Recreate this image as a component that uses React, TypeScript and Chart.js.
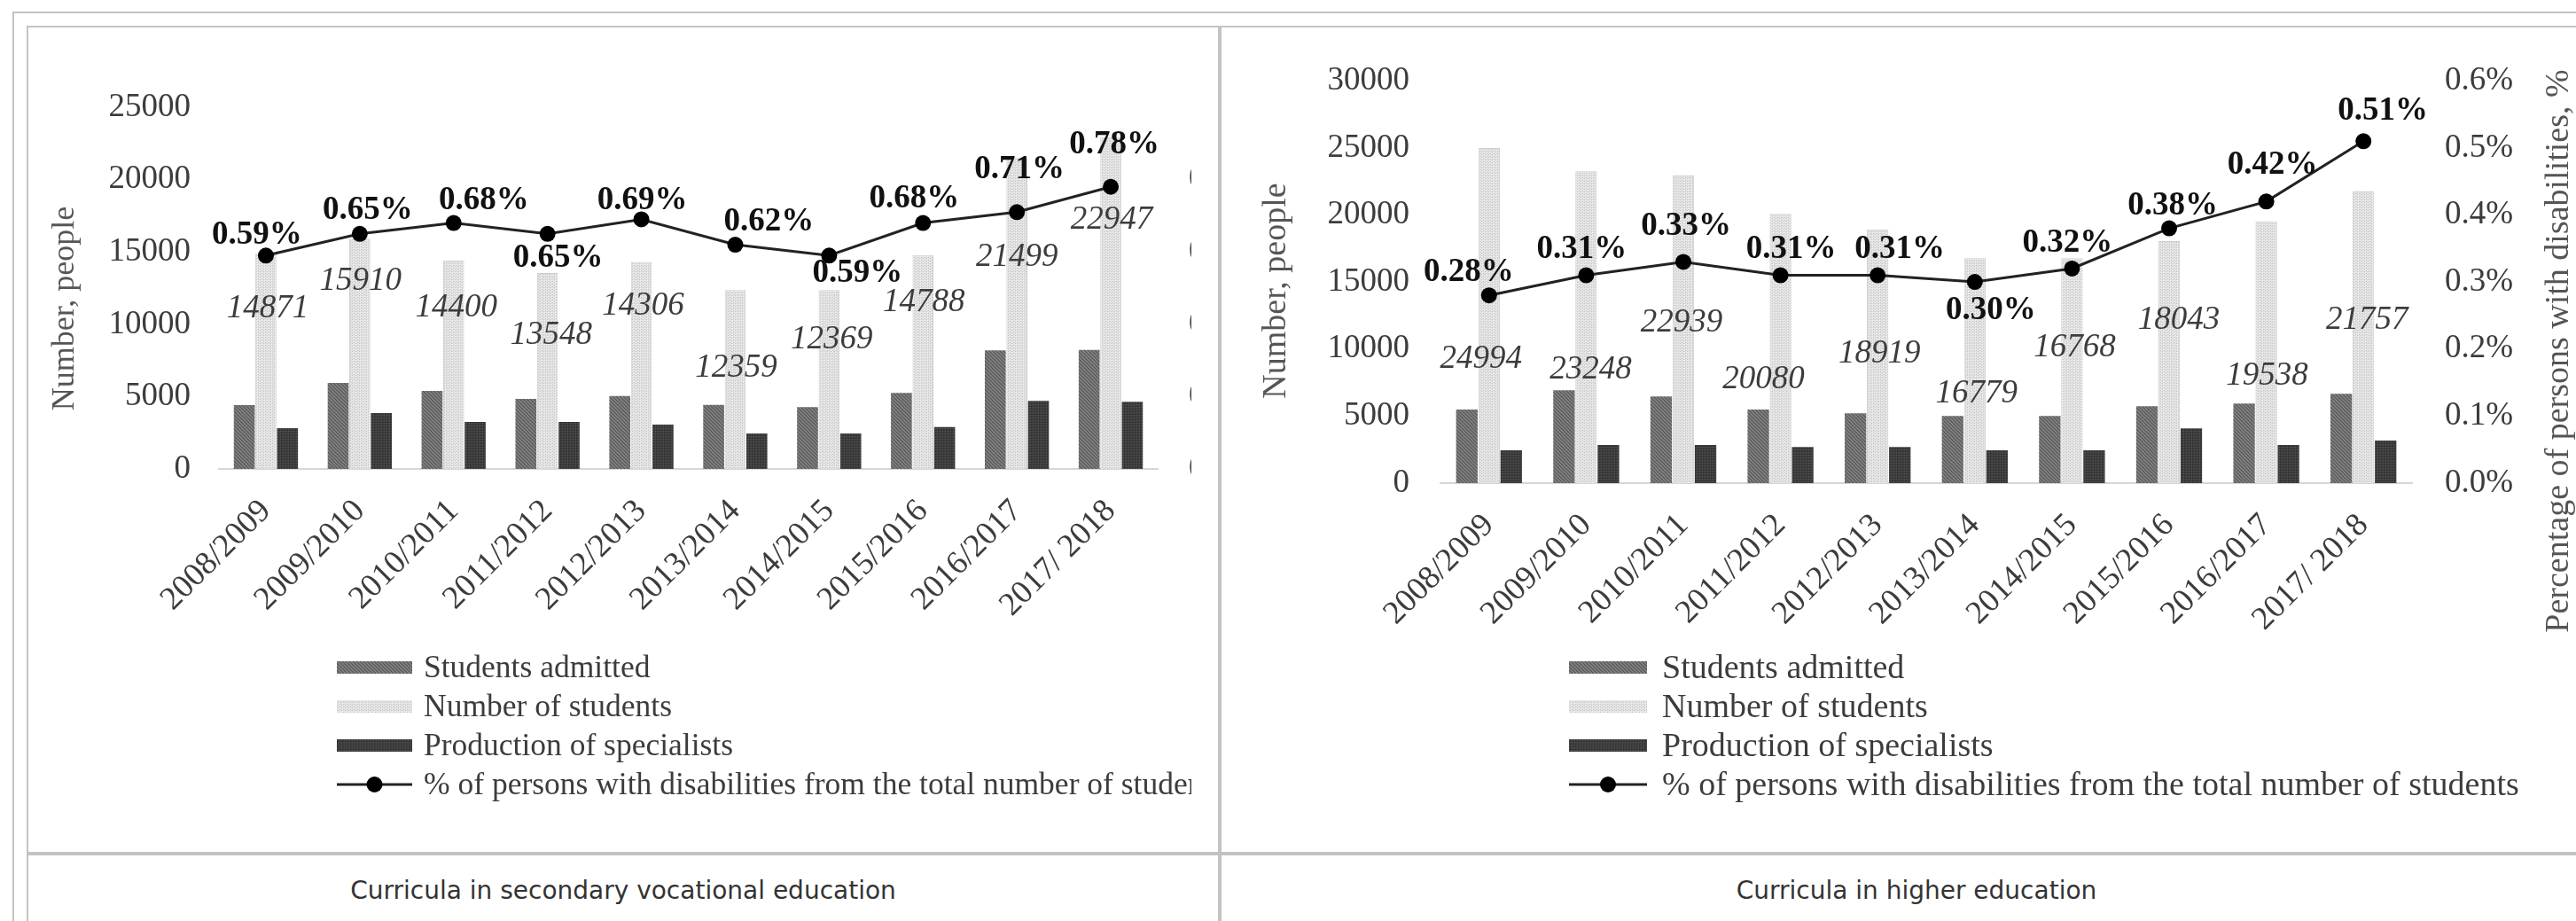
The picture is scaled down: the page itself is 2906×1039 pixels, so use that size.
import React, { useEffect, useRef } from "react";
import { Chart, registerables } from "chart.js";

Chart.register(...registerables);

// ---------------- data ----------------
const CATEGORIES = [
  "2008/2009", "2009/2010", "2010/2011", "2011/2012", "2012/2013",
  "2013/2014", "2014/2015", "2015/2016", "2016/2017", "2017/ 2018",
];

const SERIES_NAMES = [
  "Students admitted",
  "Number of students",
  "Production of specialists",
  "% of persons with disabilities from the total number of students",
];

// Curricula in secondary vocational education
const SVE_ADMITTED = [4410, 5940, 5390, 4840, 5040, 4430, 4270, 5250, 8200, 8220];
const SVE_STUDENTS = [14871, 15910, 14400, 13548, 14306, 12359, 12369, 14788, 21499, 22947];
const SVE_PRODUCTION = [2820, 3860, 3250, 3250, 3060, 2450, 2450, 2900, 4700, 4640];
const SVE_PERCENT = [0.59, 0.65, 0.68, 0.65, 0.69, 0.62, 0.59, 0.68, 0.71, 0.78];
const SVE_COUNT_TICKS = [0, 5000, 10000, 15000, 20000, 25000];
const SVE_PERCENT_TICKS = [0, 0.2, 0.4, 0.6, 0.8, 1.0];

// Curricula in higher education
const HE_ADMITTED = [5480, 6930, 6460, 5480, 5210, 5010, 5010, 5740, 5940, 6660];
const HE_STUDENTS = [24994, 23248, 22939, 20080, 18919, 16779, 16768, 18043, 19538, 21757];
const HE_PRODUCTION = [2440, 2840, 2840, 2700, 2700, 2440, 2440, 4090, 2840, 3170];
const HE_PERCENT = [0.28, 0.31, 0.33, 0.31, 0.31, 0.30, 0.32, 0.38, 0.42, 0.51];
const HE_COUNT_TICKS = [0, 5000, 10000, 15000, 20000, 25000, 30000];
const HE_PERCENT_TICKS = [0, 0.1, 0.2, 0.3, 0.4, 0.5, 0.6];

// ---------------- label placement (annotations, hand-placed in the original) ----------------
const SVE_COUNT_LABEL_AT = [11090, 12990, 11150, 9250, 11270, 6985, 8945, 11520, 14645, 17220];
const SVE_COUNT_LABEL_DX = [2, 1, 3, 4, 2, 1, 3, 1, 0, 1];
const SVE_PCT_LABEL_SHIFT = [
  [-10, -23], [9, -26], [34, -25], [12, 28], [1, -21],
  [38, -26], [32, 20], [-10, -27], [3, -48], [4, -47],
];
const HE_COUNT_LABEL_AT = [9234, 8443, 11939, 7717, 9630, 6662, 10092, 12137, 7981, 12137];
const HE_COUNT_LABEL_DX = [-9, 5, -2, -19, 2, 2, 3, 11, 1, 4];
const HE_PCT_LABEL_SHIFT = [
  [-23, -26], [-5, -29], [3, -40], [12, -29], [25, -29],
  [18, 32], [-5, -29], [4, -25], [7, -41], [22, -34],
];

// ---------------- styles ----------------
const SERIF = "'Liberation Serif', 'Times New Roman', serif";
const TEXT_GRAY = "#3c3c3c";
const BORDER = "#c3c3c3";

function makePattern(kind: string): CanvasPattern | string {
  const c = document.createElement("canvas");
  if (kind === "admitted") {
    c.width = 4; c.height = 4;
    const g = c.getContext("2d")!;
    g.fillStyle = "#727272"; g.fillRect(0, 0, 4, 4);
    g.fillStyle = "#585858";
    for (let i = 0; i < 4; i++) g.fillRect(i, i, 1, 1);
    g.fillStyle = "#858585";
    for (let i = 0; i < 4; i++) g.fillRect(i, (i + 2) % 4, 1, 1);
    return g.createPattern(c, "repeat") || "#707070";
  }
  if (kind === "students") {
    c.width = 4; c.height = 3;
    const g = c.getContext("2d")!;
    g.fillStyle = "#e3e3e3"; g.fillRect(0, 0, 4, 3);
    g.fillStyle = "#c2c2c2";
    g.fillRect(1, 1, 1, 1);
    g.fillRect(3, 0, 1, 1);
    g.fillStyle = "#f2f2f2";
    g.fillRect(2, 2, 1, 1);
    return g.createPattern(c, "repeat") || "#ddd";
  }
  c.width = 3; c.height = 3;
  const g = c.getContext("2d")!;
  g.fillStyle = "#3e3e3e"; g.fillRect(0, 0, 3, 3);
  g.fillStyle = "#282828"; g.fillRect(0, 0, 1, 1);
  g.fillStyle = "#565656"; g.fillRect(2, 1, 1, 1);
  return g.createPattern(c, "repeat") || "#3e3e3e";
}

type Panel = {
  admitted: number[];
  students: number[];
  production: number[];
  percent: number[];
  countTicks: number[];
  pctTicks: number[];
  countLabelAt: number[];
  countLabelDx: number[];
  pctShift: number[][];
  fontSize: number;
  yWidth: number;
  y1Width: number;
  yPad: number;
  y1Pad: number;
  padTop: number;
  padBottom: number;
  catPct: number;
  yTitle: { x: number; y: number; size: number };
  y1Title: { x: number; y: number; size: number } | null;
  legend: { x: number; y: number; step: number; w: number; h: number; textX: number; size: number };
};

function buildConfig(p: Panel): any {
  const fills = [makePattern("admitted"), makePattern("students"), makePattern("production")];
  const countMax = p.countTicks[p.countTicks.length - 1];
  const pctMax = p.pctTicks[p.pctTicks.length - 1];

  const overlay = {
    id: "overlay",
    afterDraw(chart: any) {
      const ctx = chart.ctx as CanvasRenderingContext2D;
      const yScale = chart.scales.y;
      const lineMeta = chart.getDatasetMeta(0);
      const studMeta = chart.getDatasetMeta(2);
      ctx.save();
      // italic count labels
      ctx.font = `italic ${p.fontSize}px ${SERIF}`;
      ctx.fillStyle = TEXT_GRAY;
      ctx.textAlign = "center";
      ctx.textBaseline = "middle";
      p.students.forEach((v, i) => {
        const el = studMeta.data[i];
        ctx.fillText(String(v), el.x + p.countLabelDx[i], yScale.getPixelForValue(p.countLabelAt[i]));
      });
      // bold percent labels
      ctx.font = `bold ${p.fontSize}px ${SERIF}`;
      ctx.fillStyle = "#111";
      p.percent.forEach((v, i) => {
        const pt = lineMeta.data[i];
        ctx.fillText(v.toFixed(2) + "%", pt.x + p.pctShift[i][0], pt.y + p.pctShift[i][1]);
      });
      // axis titles
      const drawVTitle = (t: { x: number; y: number; size: number }, text: string) => {
        ctx.save();
        ctx.translate(t.x, t.y);
        ctx.rotate(-Math.PI / 2);
        ctx.font = `${t.size}px ${SERIF}`;
        ctx.fillStyle = "#555";
        ctx.textAlign = "center";
        ctx.textBaseline = "middle";
        ctx.fillText(text, 0, 0);
        ctx.restore();
      };
      drawVTitle(p.yTitle, "Number, people");
      if (p.y1Title) drawVTitle(p.y1Title, "Percentage of persons with disabilities, %");
      // legend
      const L = p.legend;
      ctx.font = `${L.size}px ${SERIF}`;
      ctx.textAlign = "left";
      ctx.textBaseline = "middle";
      for (let i = 0; i < 3; i++) {
        const y = L.y + i * L.step;
        ctx.fillStyle = fills[i] as any;
        ctx.fillRect(L.x, y - L.h / 2, L.w, L.h);
        ctx.fillStyle = TEXT_GRAY;
        ctx.fillText(SERIES_NAMES[i], L.textX, y + 2);
      }
      const ly = L.y + 3 * L.step;
      ctx.strokeStyle = "#222";
      ctx.lineWidth = 3;
      ctx.beginPath();
      ctx.moveTo(L.x, ly);
      ctx.lineTo(L.x + L.w, ly);
      ctx.stroke();
      ctx.fillStyle = "#000";
      ctx.beginPath();
      ctx.arc(L.x + L.w / 2, ly, 9, 0, Math.PI * 2);
      ctx.fill();
      ctx.fillStyle = TEXT_GRAY;
      ctx.fillText(SERIES_NAMES[3], L.textX, ly + 2);
      ctx.restore();
    },
  };

  const tickFont = { family: SERIF, size: p.fontSize };

  return {
    type: "bar",
    data: {
      labels: CATEGORIES,
      datasets: [
        {
          type: "line",
          label: SERIES_NAMES[3],
          data: p.percent,
          yAxisID: "y1",
          borderColor: "#222",
          borderWidth: 3,
          pointRadius: 9,
          pointBackgroundColor: "#000",
          pointBorderColor: "#000",
          pointBorderWidth: 0,
          tension: 0,
          order: 0,
        },
        {
          label: SERIES_NAMES[0],
          data: p.admitted,
          yAxisID: "y",
          backgroundColor: fills[0],
          categoryPercentage: p.catPct,
          barPercentage: 0.97,
          order: 1,
        },
        {
          label: SERIES_NAMES[1],
          data: p.students,
          yAxisID: "y",
          backgroundColor: fills[1],
          borderColor: "#cdcdcd",
          borderWidth: 1,
          categoryPercentage: p.catPct,
          barPercentage: 0.97,
          order: 1,
        },
        {
          label: SERIES_NAMES[2],
          data: p.production,
          yAxisID: "y",
          backgroundColor: fills[2],
          categoryPercentage: p.catPct,
          barPercentage: 0.97,
          order: 1,
        },
      ],
    },
    options: {
      responsive: true,
      maintainAspectRatio: false,
      animation: false,
      events: [],
      layout: { padding: { top: p.padTop, bottom: p.padBottom, left: 0, right: 0 } },
      plugins: { legend: { display: false }, tooltip: { enabled: false }, title: { display: false } },
      scales: {
        x: {
          grid: { display: false, drawTicks: false },
          border: { display: true, color: "#d6d6d6", width: 2 },
          ticks: {
            font: tickFont,
            color: TEXT_GRAY,
            minRotation: 45,
            maxRotation: 45,
            autoSkip: false,
            padding: 26,
          },
          afterFit: (s: any) => { s.height = 200; },
        },
        y: {
          position: "left",
          min: 0,
          max: countMax,
          grid: { display: false, drawTicks: false },
          border: { display: false },
          afterBuildTicks: (s: any) => { s.ticks = p.countTicks.map((v) => ({ value: v })); },
          ticks: { font: tickFont, color: TEXT_GRAY, padding: p.yPad, callback: (v: any) => String(v) },
          afterFit: (s: any) => { s.width = p.yWidth; },
        },
        y1: {
          position: "right",
          min: 0,
          max: pctMax,
          grid: { display: false, drawTicks: false },
          border: { display: false },
          afterBuildTicks: (s: any) => { s.ticks = p.pctTicks.map((v) => ({ value: v })); },
          ticks: {
            font: tickFont,
            color: TEXT_GRAY,
            padding: p.y1Pad,
            callback: (v: any) => Number(v).toFixed(1) + "%",
          },
          afterFit: (s: any) => { s.width = p.y1Width; },
        },
      },
    },
    plugins: [overlay],
  };
}

function ChartBox({ panel, left, top, width, height }: { panel: Panel; left: number; top: number; width: number; height: number }) {
  const ref = useRef<HTMLCanvasElement>(null);
  useEffect(() => {
    const chart = new Chart(ref.current as HTMLCanvasElement, buildConfig(panel));
    return () => chart.destroy();
  }, []);
  return (
    <div style={{ position: "absolute", left, top, width, height }}>
      <canvas ref={ref} />
    </div>
  );
}

const SVE_PANEL: Panel = {
  admitted: SVE_ADMITTED,
  students: SVE_STUDENTS,
  production: SVE_PRODUCTION,
  percent: SVE_PERCENT,
  countTicks: SVE_COUNT_TICKS,
  pctTicks: SVE_PERCENT_TICKS,
  countLabelAt: SVE_COUNT_LABEL_AT,
  countLabelDx: SVE_COUNT_LABEL_DX,
  pctShift: SVE_PCT_LABEL_SHIFT,
  fontSize: 37,
  yWidth: 215,
  y1Width: 38,
  yPad: 32,
  y1Pad: 35,
  padTop: 89,
  padBottom: 232,
  catPct: 0.69,
  yTitle: { x: 42, y: 316, size: 36 },
  y1Title: null,
  legend: { x: 348, y: 721, step: 44, w: 85, h: 14, textX: 446, size: 35.5 },
};

const HE_PANEL: Panel = {
  admitted: HE_ADMITTED,
  students: HE_STUDENTS,
  production: HE_PRODUCTION,
  percent: HE_PERCENT,
  countTicks: HE_COUNT_TICKS,
  pctTicks: HE_PERCENT_TICKS,
  countLabelAt: HE_COUNT_LABEL_AT,
  countLabelDx: HE_COUNT_LABEL_DX,
  pctShift: HE_PCT_LABEL_SHIFT,
  fontSize: 37,
  yWidth: 247,
  y1Width: 185,
  yPad: 35,
  y1Pad: 37,
  padTop: 58,
  padBottom: 216,
  catPct: 0.685,
  yTitle: { x: 62, y: 296, size: 38 },
  y1Title: { x: 1509, y: 364, size: 38 },
  legend: { x: 392, y: 721, step: 44, w: 88, h: 14, textX: 497, size: 38 },
};

function Line({ l, t, w, h }: { l: number; t: number; w: number; h: number }) {
  return <div style={{ position: "absolute", left: l, top: t, width: w, height: h, background: BORDER }} />;
}

const CAPTION_FONT = "28px 'DejaVu Sans', Verdana, sans-serif";

export default function App() {
  const W = 2906;
  const H = 1039;
  return (
    <div style={{ position: "absolute", left: 0, top: 0, width: W, height: H, overflow: "hidden", background: "#fff" }}>
      <Line l={14} t={13} w={W - 14} h={2} />
      <Line l={14} t={13} w={2} h={H - 13} />
      <Line l={30} t={29} w={W - 30} h={2} />
      <Line l={30} t={29} w={2} h={H - 29} />
      <Line l={1374} t={29} w={4} h={H - 29} />
      <Line l={30} t={961} w={W - 30} h={4} />
      <ChartBox panel={SVE_PANEL} left={32} top={32} width={1312} height={929} />
      <ChartBox panel={HE_PANEL} left={1378} top={32} width={1528} height={929} />
      <div style={{ position: "absolute", left: 3, top: 989, width: 1400, textAlign: "center", font: CAPTION_FONT, color: "#333", lineHeight: "32px" }}>
        Curricula in secondary vocational education
      </div>
      <div style={{ position: "absolute", left: 1462, top: 989, width: 1400, textAlign: "center", font: CAPTION_FONT, color: "#333", lineHeight: "32px" }}>
        Curricula in higher education
      </div>
    </div>
  );
}
